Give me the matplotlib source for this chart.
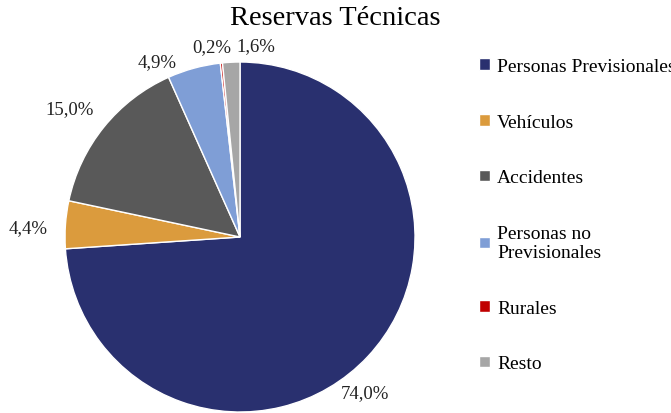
import numpy as np
import matplotlib
matplotlib.use("Agg")
import matplotlib.pyplot as plt

plt.rcParams['font.family'] = ['Liberation Serif', 'DejaVu Serif']

# data
categories = ['Personas Previsionales', 'Vehículos', 'Accidentes',
              'Personas no\nPrevisionales', 'Rurales', 'Resto']
shares = [74.0, 4.4, 15.0, 4.9, 0.2, 1.6]
pct_labels = ['74,0%', '4,4%', '15,0%', '4,9%', '0,2%', '1,6%']
colors = ['#29306F', '#DB9B3D', '#595959', '#7F9ED6', '#C00000', '#A6A6A6']

fig = plt.figure(figsize=(6.71, 4.14), dpi=100)
ax = fig.add_axes([0.0969, 0.0024, 0.5216, 0.8454])

wedges, _ = ax.pie(shares, colors=colors, startangle=90, counterclock=False,
                   radius=1.0, wedgeprops=dict(edgecolor='white', linewidth=1))
ax.set_xlim(-1, 1)
ax.set_ylim(-1, 1)
ax.set_aspect('equal')
for w in wedges:
    w.set_clip_on(False)

# label placement: radial distance and angle nudge (deg) per slice
label_r = [1.14, 1.21, 1.22, 1.11, 1.10, 1.10]
label_dang = [-8, 1.6, 2, 10, 2.3, -7.5]
for w, txt, r, da in zip(wedges, pct_labels, label_r, label_dang):
    ang = np.deg2rad((w.theta1 + w.theta2) / 2 + da)
    ax.text(r * np.cos(ang), r * np.sin(ang), txt, ha='center', va='center',
            fontsize=13.5, color='#222222', clip_on=False)

fig.suptitle('Reservas Técnicas', x=0.5, y=0.955, va='center', fontsize=20.5)

leg = fig.legend(wedges, categories, loc='upper left', bbox_to_anchor=(0.703, 0.877),
                 frameon=False, fontsize=14, handlelength=0.55, handleheight=0.55,
                 handletextpad=0.35, labelspacing=2.0, borderaxespad=0)
leg.get_texts()[3].set_linespacing(1.1)

fig.savefig('out.png', dpi=100)
